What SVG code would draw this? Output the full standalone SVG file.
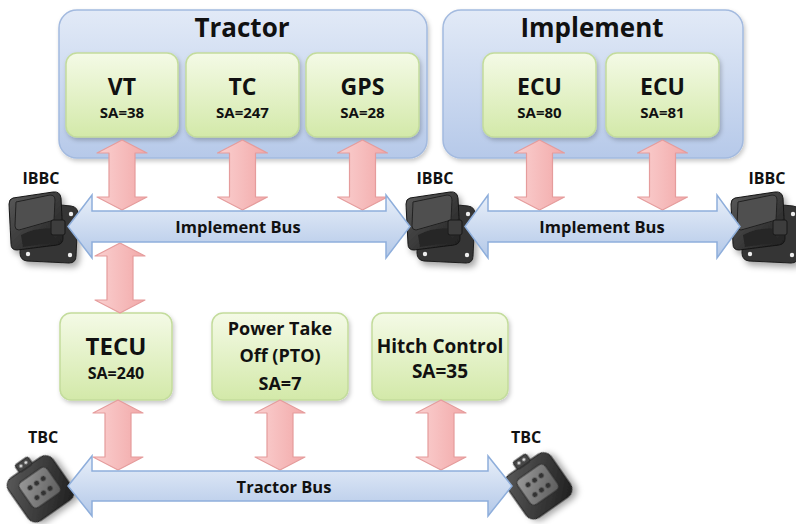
<svg xmlns="http://www.w3.org/2000/svg" xmlns:xlink="http://www.w3.org/1999/xlink" width="796" height="524" viewBox="0 0 796 524">
  <style>
    text { font-family: "Open Sans", "Noto Sans", "Liberation Sans", sans-serif; font-weight: bold; fill: #111; text-anchor: middle; }
    .group { fill: url(#gBlue); stroke: #a3badf; stroke-width: 1.5; filter: url(#shadow); }
    .ecu { fill: url(#gGreen); stroke: #c3dc9c; stroke-width: 1.5; filter: url(#shadow); }
    .title { font-size: 26px; }
    .name { font-size: 23px; }
    .sa { font-size: 15px; }
    .lbl { font-size: 16px; }
    .bus { fill: url(#gBus); stroke: #8eaedb; stroke-width: 1.5; }
    .busText { font-size: 16.5px; }
  </style>
  <defs>
    <filter id="shadow" x="-10%" y="-10%" width="130%" height="130%">
      <feDropShadow dx="1.5" dy="2.5" stdDeviation="2" flood-color="#000" flood-opacity="0.22"/>
    </filter>
    <filter id="soft" x="-30%" y="-30%" width="160%" height="160%">
      <feDropShadow dx="3" dy="4" stdDeviation="3" flood-color="#000" flood-opacity="0.35"/>
    </filter>
    <linearGradient id="gBlue" x1="0" y1="0" x2="0" y2="1">
      <stop offset="0" stop-color="#e2eaf7"/>
      <stop offset="1" stop-color="#b6c9e9"/>
    </linearGradient>
    <linearGradient id="gGreen" x1="0" y1="0" x2="0" y2="1">
      <stop offset="0" stop-color="#f4fae6"/>
      <stop offset="1" stop-color="#d3e9a9"/>
    </linearGradient>
    <linearGradient id="gPink" x1="0" y1="0" x2="1" y2="0">
      <stop offset="0" stop-color="#fad0d0"/>
      <stop offset="1" stop-color="#f2a9a9"/>
    </linearGradient>
    <linearGradient id="gBus" x1="0" y1="0" x2="0" y2="1">
      <stop offset="0" stop-color="#e8eff9"/>
      <stop offset="1" stop-color="#b3c8e8"/>
    </linearGradient>
    <linearGradient id="gDark" x1="0" y1="0" x2="1" y2="1">
      <stop offset="0" stop-color="#5a5a5a"/>
      <stop offset="1" stop-color="#1e1e1e"/>
    </linearGradient>
    <linearGradient id="gPin" x1="0" y1="0" x2="1" y2="1">
      <stop offset="0" stop-color="#9a9a9a"/>
      <stop offset="1" stop-color="#5c5c5c"/>
    </linearGradient>

    <!-- vertical two-way arrow, 70 px tall, centred on x=0 -->
    <path id="dbl" d="M0,0 L25,13 L13,13 L13,57 L25,57 L0,70 L-25,57 L-13,57 L-13,13 L-25,13 Z"
          fill="url(#gPink)" stroke="#e59c9c" stroke-width="1.2" stroke-linejoin="round"/>

    <!-- implement bus breakaway connector (socket on a square flange) -->
    <symbol id="ibbc" viewBox="0 0 72 74" width="72" height="74" overflow="visible">
      <g filter="url(#soft)">
        <path d="M22,12 L64,16 Q71,17 71,24 L69,66 Q69,73 62,73 L20,71 Q13,70 13,63 L15,19 Q15,12 22,12 Z" fill="#343434" stroke="#1c1c1c"/>
        <circle cx="64" cy="24" r="2.2" fill="#eee"/>
        <circle cx="63" cy="65" r="2.2" fill="#eee"/>
        <circle cx="21" cy="64" r="2.2" fill="#eee"/>
        <path d="M6,8 L46,2 Q53,1 54,8 L56,48 Q56,54 50,55 L10,60 Q4,60 4,54 L2,14 Q2,9 6,8 Z" fill="url(#gDark)" stroke="#151515"/>
        <path d="M9,12 L43,5 Q48,5 48,10 L47,30 L12,40 Q8,40 8,36 Z" fill="#505050" stroke="#222"/>
        <path d="M14,45 Q30,37 46,39 L48,52 L16,57 Z" fill="#262626"/>
        <rect x="44" y="30" width="14" height="15" rx="2" fill="#3c3c3c" stroke="#1a1a1a"/>
      </g>
    </symbol>

    <!-- tractor bus connector (tilted receptacle with six pins) -->
    <symbol id="tbc" viewBox="-36 -36 72 72" width="72" height="72" overflow="visible">
      <g transform="rotate(-35)" filter="url(#soft)">
        <rect x="-27" y="-25" width="54" height="52" rx="9" fill="url(#gDark)" stroke="#1a1a1a"/>
        <rect x="-17" y="-16" width="34" height="31" rx="5" fill="url(#gPin)" stroke="#2a2a2a"/>
        <circle cx="-8" cy="-6" r="2.6" fill="#333"/>
        <circle cx="0" cy="-6" r="2.6" fill="#333"/>
        <circle cx="8" cy="-6" r="2.6" fill="#333"/>
        <circle cx="-8" cy="6" r="2.6" fill="#333"/>
        <circle cx="0" cy="6" r="2.6" fill="#333"/>
        <circle cx="8" cy="6" r="2.6" fill="#333"/>
        <rect x="-8" y="-33" width="16" height="9" rx="2" fill="#444" stroke="#222"/>
        <circle cx="-3" cy="-29" r="1.6" fill="#ddd"/>
        <circle cx="3" cy="-29" r="1.6" fill="#ddd"/>
      </g>
    </symbol>
  </defs>

  <rect width="796" height="524" fill="#ffffff"/>

  <!-- tractor group -->
  <g id="tractor">
    <rect class="group" x="59" y="10" width="368" height="148" rx="18"/>
    <text class="title" x="242" y="37">Tractor</text>
  </g>
  <g id="vt">
    <rect class="ecu" x="66" y="53" width="112" height="84" rx="11"/>
    <text class="name" x="122" y="95">VT</text>
    <text class="sa" x="122" y="118">SA=38</text>
  </g>
  <g id="tc">
    <rect class="ecu" x="186" y="53" width="113" height="84" rx="11"/>
    <text class="name" x="242.5" y="95">TC</text>
    <text class="sa" x="242.5" y="118">SA=247</text>
  </g>
  <g id="gps">
    <rect class="ecu" x="306" y="53" width="113" height="84" rx="11"/>
    <text class="name" x="362.5" y="95">GPS</text>
    <text class="sa" x="362.5" y="118">SA=28</text>
  </g>

  <!-- implement group -->
  <g id="implement">
    <rect class="group" x="443" y="10" width="300" height="148" rx="18"/>
    <text class="title" x="592" y="37">Implement</text>
  </g>
  <g id="ecu80">
    <rect class="ecu" x="483" y="53" width="113" height="84" rx="11"/>
    <text class="name" x="539.5" y="95">ECU</text>
    <text class="sa" x="539.5" y="118">SA=80</text>
  </g>
  <g id="ecu81">
    <rect class="ecu" x="606" y="53" width="113" height="84" rx="11"/>
    <text class="name" x="662.5" y="95">ECU</text>
    <text class="sa" x="662.5" y="118">SA=81</text>
  </g>

  <!-- tractor bus members -->
  <g id="tecu">
    <rect class="ecu" x="60" y="313" width="112" height="87" rx="11"/>
    <text x="116" y="355" style="font-size:24px">TECU</text>
    <text x="116" y="379" style="font-size:16px">SA=240</text>
  </g>
  <g id="pto">
    <rect class="ecu" x="212" y="313" width="136" height="87" rx="11"/>
    <text x="280" y="335" style="font-size:18px">Power Take</text>
    <text x="280" y="362" style="font-size:18px">Off (PTO)</text>
    <text x="280" y="390" style="font-size:18px">SA=7</text>
  </g>
  <g id="hitch">
    <rect class="ecu" x="372" y="313" width="136" height="87" rx="11"/>
    <text x="440" y="353" style="font-size:19px">Hitch Control</text>
    <text x="440" y="378" style="font-size:19px">SA=35</text>
  </g>

  <!-- bus connectors -->
  <g id="ibbc-left">
    <text class="lbl" x="41" y="184">IBBC</text>
    <use href="#ibbc" x="7" y="190"/>
  </g>
  <g id="ibbc-mid">
    <text class="lbl" x="435" y="184">IBBC</text>
    <use href="#ibbc" x="404" y="190"/>
  </g>
  <g id="ibbc-right">
    <text class="lbl" x="767" y="184">IBBC</text>
    <use href="#ibbc" x="729" y="190"/>
  </g>
  <g id="tbc-left">
    <text class="lbl" x="43" y="443">TBC</text>
    <use href="#tbc" x="4" y="452"/>
  </g>
  <g id="tbc-right">
    <text class="lbl" x="526" y="443">TBC</text>
    <use href="#tbc" x="502" y="449"/>
  </g>

  <!-- connectors: node-to-bus links and the two buses -->
  <g id="connectors">
    <use href="#dbl" x="122" y="140"/>
    <use href="#dbl" x="242.5" y="140"/>
    <use href="#dbl" x="362.5" y="140"/>
    <use href="#dbl" x="539.5" y="140"/>
    <use href="#dbl" x="662.5" y="140"/>
    <use href="#dbl" x="120" y="243"/>
    <use href="#dbl" x="118" y="400"/>
    <use href="#dbl" x="280" y="400"/>
    <use href="#dbl" x="441" y="400"/>

    <path class="bus" d="M68,226.5 L92,195 L92,211 L386,211 L386,195 L410,226.5 L386,258 L386,242 L92,242 L92,258 Z"/>
    <text class="busText" x="238" y="233">Implement Bus</text>

    <path class="bus" d="M465,226.5 L488,195 L488,211 L717,211 L717,195 L740,226.5 L717,258 L717,242 L488,242 L488,258 Z"/>
    <text class="busText" x="602" y="233">Implement Bus</text>

    <path class="bus" d="M68,486 L92,456 L92,471 L488,471 L488,456 L512,486 L488,516 L488,501 L92,501 L92,516 Z"/>
    <text class="busText" x="284" y="493">Tractor Bus</text>
  </g>
</svg>
